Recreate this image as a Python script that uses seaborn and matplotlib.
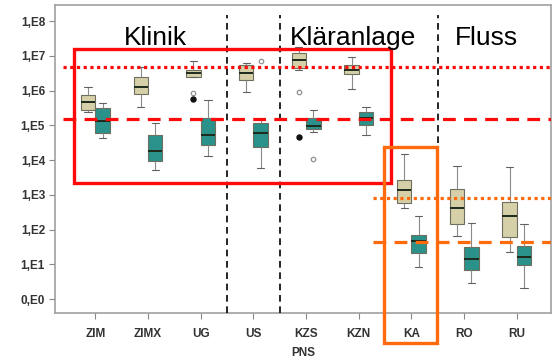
import numpy as np
import pandas as pd
import matplotlib
matplotlib.use("Agg")
import matplotlib.pyplot as plt
from matplotlib.patches import Rectangle
from matplotlib.ticker import FixedLocator, NullLocator
import seaborn as sns

# Sampling sites along the x axis
categories = ["ZIM", "ZIMX", "UG", "US", "KZS", "KZN", "KA", "RO", "RU"]
series = ["Reihe 1", "Reihe 2"]

# Five-number summaries (log10 of the count) for the light series
tan_low = [5.38, 5.53, 6.40, 5.97, 6.59, 6.03, 2.61, 1.81, 1.36]
tan_q1 = [5.44, 5.90, 6.40, 6.30, 6.64, 6.47, 2.77, 2.15, 1.79]
tan_med = [5.67, 6.10, 6.51, 6.51, 6.88, 6.59, 3.15, 2.63, 2.39]
tan_q3 = [5.87, 6.39, 6.59, 6.73, 7.07, 6.73, 3.44, 3.16, 2.80]
tan_high = [6.10, 6.68, 6.85, 6.78, 7.26, 6.97, 4.17, 3.83, 3.81]

# Five-number summaries (log10 of the count) for the teal series
teal_low = [4.63, 3.71, 4.12, 3.77, 4.81, 4.72, 0.91, 0.47, 0.31]
teal_q1 = [4.78, 3.97, 4.43, 4.37, 4.88, 5.01, 1.33, 0.83, 0.98]
teal_med = [5.12, 4.26, 4.72, 4.79, 4.98, 5.20, 1.67, 1.14, 1.22]
teal_q3 = [5.50, 4.72, 5.21, 5.06, 5.20, 5.39, 1.84, 1.49, 1.53]
teal_high = [5.64, 5.06, 5.73, 5.15, 5.44, 5.53, 2.39, 2.18, 2.16]

# Single outlying samples: site, series index, log10 value, extreme flag
out_site = ["UG", "UG", "US", "KZS", "KZS", "KZS"]
out_series = [0, 0, 1, 0, 0, 1]
out_value = [5.94, 5.75, 6.85, 5.97, 4.67, 4.03]
out_extreme = [False, True, False, False, True, False]

# Reference levels (log10)
red_dotted_level = 6.68
red_dashed_level = 5.17
orange_dotted_level = 2.91
orange_dashed_level = 1.64

ytick_labels = ["0,E0", "1,E1", "1,E2", "1,E3", "1,E4", "1,E5", "1,E6", "1,E7", "1,E8"]

rows = []
for name, stats in zip(series, [(tan_low, tan_q1, tan_med, tan_q3, tan_high),
                                (teal_low, teal_q1, teal_med, teal_q3, teal_high)]):
    for i, cat in enumerate(categories):
        for s in stats:
            rows.append({"Ort": cat, "Reihe": name, "Wert": 10 ** s[i]})
df = pd.DataFrame(rows)

sns.set_style("white")
plt.rcParams["font.family"] = ["Liberation Sans", "DejaVu Sans"]

fig = plt.figure(figsize=(5.53, 3.63), dpi=100)
ax = fig.add_axes([0.099, 0.1377, 0.8975, 0.8485])

box_width = 0.55
tan_color = "#ddd6a0"
teal_color = "#1aa39a"

sns.boxplot(
    data=df, x="Ort", y="Wert", hue="Reihe", order=categories, hue_order=series,
    palette=[tan_color, teal_color], width=box_width, whis=(0, 100),
    log_scale=True, linecolor="#6e6e5e", linewidth=0.8, legend=False, ax=ax,
    medianprops={"color": "#1e2a1e", "linewidth": 1.4},
    whiskerprops={"color": "#8a8a8a"}, capprops={"color": "#606060"},
)

# Outlier markers at the dodged box positions
offset = box_width / 4
for site, sidx, val, ext in zip(out_site, out_series, out_value, out_extreme):
    xpos = categories.index(site) + (-offset if sidx == 0 else offset)
    if ext:
        ax.plot(xpos, 10 ** val, marker="o", ms=3.6, color="#111111", zorder=5)
    else:
        ax.plot(xpos, 10 ** val, marker="o", ms=3.2, mfc="white", mec="#909090",
                mew=0.9, zorder=5)

xmin, xmax = -0.77, 8.65
ax.set_xlim(xmin, xmax)
ax.set_ylim(10 ** -0.40, 10 ** 8.46)

ax.yaxis.set_major_locator(FixedLocator([10.0 ** k for k in range(9)]))
ax.yaxis.set_minor_locator(NullLocator())
ax.set_yticklabels(ytick_labels)

for lab in ax.get_xticklabels() + ax.get_yticklabels():
    lab.set_fontweight("bold")
    lab.set_fontsize(8.5)
    lab.set_color("#333333")
ax.tick_params(axis="both", which="major", direction="out", length=4,
               width=0.8, color="#888888", pad=3, bottom=True, left=True)
ax.tick_params(axis="x", pad=7)
ax.set_ylabel("")
ax.set_xlabel("PNS", fontsize=8.5, fontweight="bold", color="#333333", labelpad=5)
for sp in ax.spines.values():
    sp.set_visible(True)
    sp.set_color("#a0a0a0")
    sp.set_linewidth(1.2)

# Group separators
for xv in [2.5, 3.5, 6.5]:
    ax.vlines(xv, 10 ** -0.40, 10 ** 8.17, colors="black", lw=1.2,
              linestyles=(0, (4, 2.8)), zorder=3)

# Reference levels
red = "#ff0a0a"
orange = "#ff6a0d"
ax.hlines(10 ** red_dotted_level, -0.61, xmax, colors=red, lw=2.3,
          linestyles=(0, (1, 1.1)), zorder=4)
ax.hlines(10 ** red_dashed_level, -0.61, xmax, colors=red, lw=2.3,
          linestyles=(0, (4, 2.6)), zorder=4)
ax.hlines(10 ** orange_dotted_level, 5.27, xmax, colors=orange, lw=2.3,
          linestyles=(0, (1, 1.1)), zorder=4)
ax.hlines(10 ** orange_dashed_level, 5.27, xmax, colors=orange, lw=2.3,
          linestyles=(0, (4, 2.6)), zorder=4)

# Highlight frames
ax.add_patch(Rectangle((-0.40, 10 ** 3.34), 6.01, 10 ** 7.19 - 10 ** 3.34,
                       fill=False, ec=red, lw=2.4, zorder=6, clip_on=False))
ax.add_patch(Rectangle((5.48, -0.097), 1.0, 0.539 + 0.097, fill=False, ec=orange,
                       lw=2.4, zorder=6, clip_on=False,
                       transform=ax.get_xaxis_transform()))

# Group titles
for txt, xv in [("Klinik", 1.14), ("Kläranlage", 4.89), ("Fluss", 7.43)]:
    ax.text(xv, 10 ** 7.31, txt, ha="center", va="baseline", fontsize=19,
            color="black", zorder=7)

fig.savefig("out.png", dpi=100)
